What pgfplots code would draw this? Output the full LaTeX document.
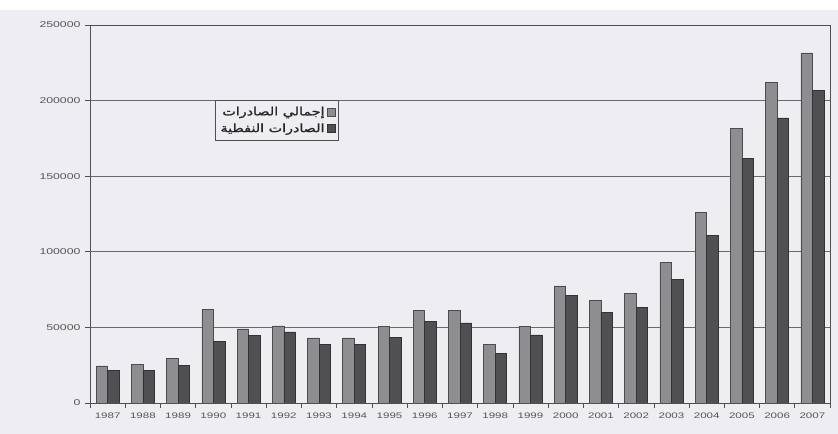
\documentclass[border=0pt]{standalone}
\usepackage{fontspec}
\usepackage{pgfplots}
\pgfplotsset{compat=1.18}
\setmainfont{Liberation Sans}
\newfontfamily\tickfont{Liberation Sans}[FakeStretch=1.45]
\newfontfamily\arabicfont[Script=Arabic, FakeStretch=1.25, FakeBold=1.2]{DejaVu Sans}
\TeXXeTstate=1
\definecolor{paper}{RGB}{238,238,242}
\definecolor{totalbar}{RGB}{142,142,144}
\definecolor{oilbar}{RGB}{80,80,82}
\definecolor{framecol}{RGB}{80,80,82}
\definecolor{gridcol}{RGB}{105,105,108}
\definecolor{labelcol}{RGB}{85,85,88}
% small square legend swatch
\pgfplotsset{boxlegend/.style={legend image code/.code={\draw[##1] (0bp,-4bp) rectangle (8bp,4bp);}}}

\begin{document}
\begin{tikzpicture}[x=1bp,y=1bp]
% page background
\fill[paper] (0,0) rectangle (838,434);
\fill[white] (0,424) rectangle (838,434);
\begin{axis}[
  at={(90bp,31bp)}, anchor=south west,
  scale only axis, width=740bp, height=378bp,
  xmin=-0.5, xmax=20.5, ymin=0, ymax=250000,
  ybar=0pt, bar width=11.5bp,
  xtick={-0.5,0.5,...,20.5},
  xticklabels={1987,1988,1989,1990,1991,1992,1993,1994,1995,1996,1997,1998,1999,2000,2001,2002,2003,2004,2005,2006,2007},
  x tick label as interval,
  ytick={0,50000,150000,200000,250000},
  yticklabels={0,50000,150000,200000,250000},
  extra y ticks={100000},
  extra y tick labels={100000},
  extra y tick style={grid style={draw=gridcol!30, line width=0.6bp}},
  scaled y ticks=false,
  tick pos=left, tick align=outside, major tick length=5bp,
  tick style={draw=framecol, line width=0.6bp},
  ymajorgrids, major grid style={draw=gridcol, line width=0.7bp},
  axis line style={draw=framecol, line width=0.8bp},
  tick label style={font=\tickfont\fontsize{8}{9}\selectfont, text=labelcol},
  yticklabel style={font=\tickfont\fontsize{8.5}{10}\selectfont, xshift=-1bp},
  xticklabel style={yshift=-1bp},
  legend style={at={(0.169,0.802)}, anchor=north west, draw=framecol,
    line width=0.8bp, fill=paper, text=black!85,
    font=\arabicfont\fontsize{11.5}{14}\selectfont,
    inner xsep=3bp, inner ysep=4.5bp, row sep=2.5bp},
  legend cell align=right,
  legend plot pos=right,
]
% total exports
\addplot[fill=totalbar, draw=black!70, line width=0.6bp, boxlegend]
  coordinates {
  (0,24500) (1,25500) (2,29500) (3,62000) (4,49000) (5,51000) (6,43000)
  (7,43000) (8,50500) (9,61000) (10,61000) (11,39000) (12,50500) (13,77500)
  (14,68000) (15,72500) (16,93000) (17,126000) (18,181500) (19,212000) (20,231500)};
% oil exports
\addplot[fill=oilbar, draw=black!80, line width=0.6bp, boxlegend]
  coordinates {
  (0,21500) (1,21500) (2,25000) (3,41000) (4,44500) (5,47000) (6,39000)
  (7,38500) (8,43500) (9,54000) (10,53000) (11,33000) (12,45000) (13,71000)
  (14,60000) (15,63000) (16,82000) (17,111000) (18,162000) (19,188500) (20,207000)};
\legend{{\beginR إجمالي الصادرات\endR},{\beginR الصادرات النفطية\endR}}
\end{axis}
\end{tikzpicture}
\end{document}
